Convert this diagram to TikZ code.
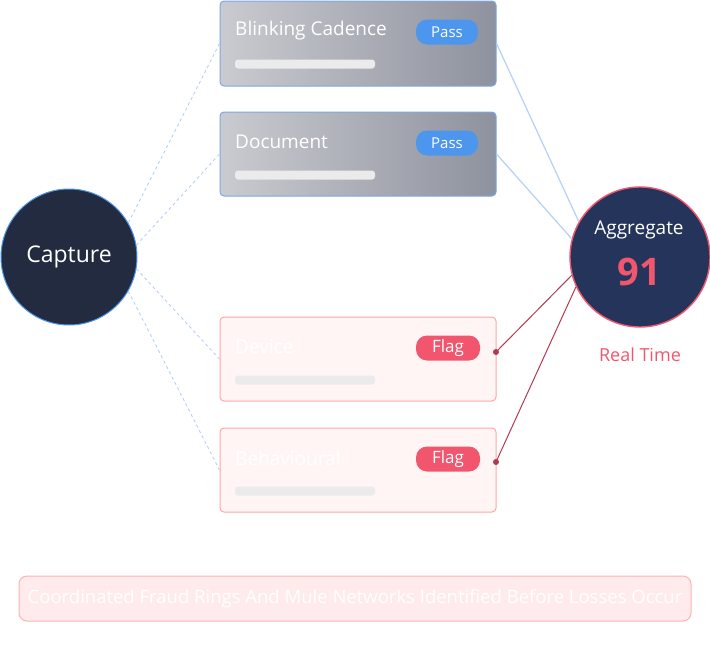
\documentclass[tikz,border=0pt]{standalone}
\usepackage{fontspec}
\setmainfont{Open Sans}
\definecolor{capc}{HTML}{222B40}
\definecolor{aggc}{HTML}{25345A}
\definecolor{passc}{HTML}{4C96EE}
\definecolor{flagc}{HTML}{F2566E}
\definecolor{gl}{HTML}{CACBD0}
\definecolor{gr}{HTML}{8E929E}
\definecolor{bb}{HTML}{7EA8E4}
\definecolor{lb}{HTML}{B4D0F4}
\definecolor{rl}{HTML}{B03A50}
\begin{document}
\begin{tikzpicture}[x=1pt,y=-1pt,
 gbox/.style={draw=bb,line width=1pt,rounded corners=4pt,left color=gl,right color=gr},
 rbox/.style={draw=red!35!white,line width=1pt,rounded corners=4pt,fill=red!4},
 pass/.style={fill=passc,rounded corners=11pt,minimum width=62pt,minimum height=25pt,text=white,font=\fontsize{15}{15}\selectfont},
 flag/.style={fill=flagc,rounded corners=11pt,minimum width=64pt,minimum height=25pt,text=white,font=\fontsize{17}{17}\selectfont},
 bar/.style={fill=gray!16,rounded corners=3pt},
 dsh/.style={dashed,draw=lb,line width=0.9pt},
 sol/.style={draw=lb,line width=1.2pt},
 red/.style={draw=rl,line width=1pt},
 ttl/.style={anchor=west,font=\fontsize{19}{19}\selectfont}]
\useasboundingbox (0,0) rectangle (710,646);
\node[gbox,minimum width=276pt,minimum height=85pt] (b1) at (358,43.5) {};
\node[gbox,minimum width=276pt,minimum height=84pt] (b2) at (358,154) {};
\node[rbox,minimum width=276pt,minimum height=84pt] (b3) at (358,359) {};
\node[rbox,minimum width=276pt,minimum height=84pt] (b4) at (358,470) {};
\node[ttl,text=white,inner sep=0] (t1) at (235,31) {Blinking Cadence};
\node[ttl,text=white,inner sep=0] (t2) at (235,142) {Document};
\node[ttl,text=white,inner sep=0] (t3) at (235,347) {Device};
\node[ttl,text=white,inner sep=0] (t4) at (235,458) {Behavioural};
\node[pass] (p1) at (447,32) {Pass};
\node[pass] (p2) at (447,143) {Pass};
\node[flag] (f1) at (448,348) {Flag};
\node[flag] (f2) at (448,459) {Flag};
\foreach \y/\n in {64/r1,175/r2,380/r3,491/r4}{\node[bar,minimum width=140pt,minimum height=9pt,inner sep=0] (\n) at (305,\y) {};}
\node[circle,draw=passc,line width=1pt,fill=capc,minimum size=136pt,text=white,font=\fontsize{23}{23}\selectfont] (cap) at (69,257) {Capture};
\node[circle,draw=flagc,line width=1.4pt,fill=aggc,minimum size=140pt] (agg) at (640,257) {};
\node[text=white,font=\fontsize{19}{19}\selectfont] (at) at (639,230) {Aggregate};
\node[text=flagc,font=\fontsize{38}{38}\selectfont\bfseries] (an) at (639,272) {91};
\node[text=flagc,font=\fontsize{18}{18}\selectfont] (rt) at (640,355) {Real Time};
\draw[dsh] (cap.30) -- (b1.west);
\draw[dsh] (cap.10) -- (b2.west);
\draw[dsh] (cap.-10) -- (b3.west);
\draw[dsh] (cap.-30) -- (b4.west);
\draw[sol] (b1.east) -- (agg.150);
\draw[sol] (b2.east) -- (agg.165);
\coordinate (d1) at (496,352);
\coordinate (d2) at (496,462);
\draw[red] (d1) -- (agg.195);
\draw[red] (d2) -- (agg.205);
\fill[rl] (d1) circle (3pt) (d2) circle (3pt);
\node[draw=red!30!white,line width=1pt,rounded corners=8pt,fill=red!8,minimum width=672pt,minimum height=45pt,text=white,font=\fontsize{18.5}{18.5}\selectfont] (ban) at (355,598.5) {Coordinated Fraud Rings And Mule Networks Identified Before Losses Occur};
\end{tikzpicture}
\end{document}
